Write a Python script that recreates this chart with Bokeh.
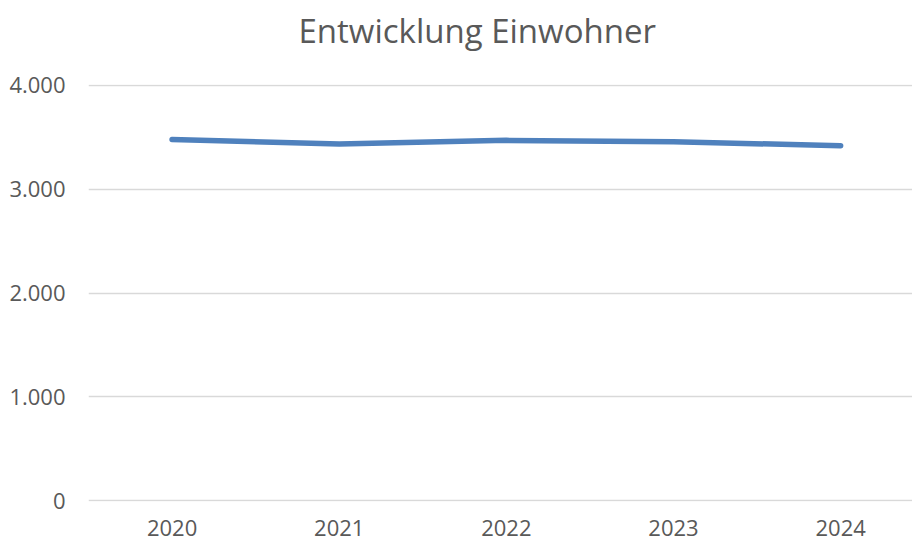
from bokeh.plotting import figure
from bokeh.models import Range1d, FixedTicker, ColumnDataSource, Title
from bokeh.embed import file_html
from bokeh.resources import INLINE

title_text = "Entwicklung Einwohner"
years = ["2020", "2021", "2022", "2023", "2024"]
einwohner = [3479, 3434, 3470, 3456, 3419]
y_ticks = [0, 1000, 2000, 3000, 4000]
y_tick_labels = ["0", "1.000", "2.000", "3.000", "4.000"]

xs = list(range(len(years)))
src = ColumnDataSource(dict(x=xs, y=einwohner, year=years))

p = figure(width=912, height=542, output_backend="svg", toolbar_location=None,
           x_range=Range1d(-0.5, 4.43), y_range=Range1d(-8, 4008),
           frame_width=824, frame_height=417, title=None,
           min_border_left=88, min_border_right=0, min_border_top=0, min_border_bottom=30)
p.outline_line_color = None
p.background_fill_color = "white"
p.border_fill_color = "white"

# spacer between the title and the plot area (closest to the frame)
spacer = Title(text=" ", text_font_size="1px", standoff=23)
p.add_layout(spacer, "above")
main_title = Title(text=title_text, align="left", offset=210, standoff=11,
                   text_font="Open Sans", text_font_size="33px", text_font_style="normal",
                   text_color="#595959")
p.add_layout(main_title, "above")

p.line("x", "y", source=src, line_color="#4F81BD", line_width=5.5, line_cap="round", line_join="round")

p.xaxis.ticker = FixedTicker(ticks=xs)
p.xaxis.major_label_overrides = {i: y for i, y in zip(xs, years)}
p.yaxis.ticker = FixedTicker(ticks=y_ticks)
p.yaxis.major_label_overrides = {t: l for t, l in zip(y_ticks, y_tick_labels)}

for ax in (p.xaxis[0], p.yaxis[0]):
    ax.axis_line_color = None
    ax.major_tick_line_color = None
    ax.minor_tick_line_color = None
    ax.major_label_text_font = "Open Sans"
    ax.major_label_text_font_size = "22px"
    ax.major_label_text_color = "#595959"
p.yaxis.major_label_standoff = 17
p.xaxis.major_label_standoff = 12

p.xgrid.grid_line_color = None
p.ygrid.grid_line_color = "#D9D9D9"
p.ygrid.grid_line_width = 1.5

open("out.html", "w").write(file_html(p, INLINE))
